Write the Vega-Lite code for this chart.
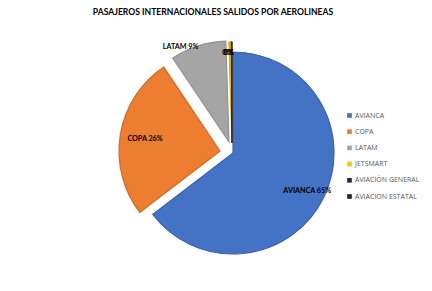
{
  "$schema": "https://vega.github.io/schema/vega-lite/v6.json",
  "autosize": "none",
  "width": 398,
  "height": 266,
  "padding": {"left": 34, "top": 20, "right": 0, "bottom": 5},
  "background": "white",
  "config": {"view": {"stroke": null}, "font": "Lato"},
  "title": {
    "text": "PASAJEROS INTERNACIONALES SALIDOS POR AEROLINEAS",
    "fontSize": 8.6,
    "fontWeight": "bold",
    "color": "#000000",
    "font": "Lato",
    "anchor": "middle",
    "dx": -20,
    "offset": 3,
    "limit": 400
  },
  "data": {
    "values": [
      {"cat": "AVIANCA", "v": 64.6},
      {"cat": "COPA", "v": 26.0},
      {"cat": "LATAM", "v": 8.9},
      {"cat": "JETSMART", "v": 0.4},
      {"cat": "AVIACIÓN GENERAL", "v": 0.06},
      {"cat": "AVIACION ESTATAL", "v": 0.04}
    ]
  },
  "layer": [
    {
      "mark": {
        "type": "arc",
        "outerRadius": 101,
        "strokeWidth": 1.2,
        "xOffset": {"expr": "datum.cat == 'COPA' ? -13 : datum.cat == 'AVIANCA' ? 0 : datum.cat == 'LATAM' ? -4 : -1"},
        "yOffset": {"expr": "datum.cat == 'COPA' ? -2 : datum.cat == 'AVIANCA' ? 0 : datum.cat == 'LATAM' ? -11 : -10"}
      },
      "encoding": {
        "theta": {"field": "v", "type": "quantitative", "stack": true},
        "order": {"field": "v", "type": "quantitative", "sort": "descending"},
        "color": {
          "field": "cat",
          "type": "nominal",
          "scale": {
            "domain": ["AVIANCA", "COPA", "LATAM", "JETSMART", "AVIACIÓN GENERAL", "AVIACION ESTATAL"],
            "range": ["#4472C4", "#ED7D31", "#A5A5A5", "#FFC000", "#1F2B45", "#26262E"]
          },
          "legend": {
            "title": null,
            "orient": "none",
            "legendX": 312,
            "legendY": 92,
            "symbolType": "square",
            "symbolSize": 22,
            "symbolStrokeWidth": 0,
            "labelFontSize": 7,
            "labelColor": "#595959",
            "labelFont": "Open Sans",
            "rowPadding": 8.2,
            "labelOffset": 2,
            "labelLimit": 120
          }
        },
        "stroke": {
          "field": "cat",
          "type": "nominal",
          "scale": {
            "domain": ["AVIANCA", "COPA", "LATAM", "JETSMART", "AVIACIÓN GENERAL", "AVIACION ESTATAL"],
            "range": ["#3A64B0", "#D46A22", "#939393", "#E0A800", "#1F2B45", "#26262E"]
          },
          "legend": null
        }
      }
    },
    {
      "transform": [
        {"calculate": "datum.v >= 1 ? datum.cat + ' ' + format(datum.v / 100, '.0%') : '0%'", "as": "label"}
      ],
      "mark": {
        "type": "text",
        "fontSize": 7.2,
        "fontWeight": "bold",
        "color": "#000000",
        "font": "Lato",
        "radius": {"expr": "datum.cat == 'AVIANCA' ? 85 : datum.cat == 'COPA' ? 76 : datum.cat == 'LATAM' ? 100 : 90"},
        "align": {"expr": "datum.cat == 'LATAM' ? 'right' : 'center'"},
        "baseline": "middle",
        "xOffset": {"expr": "datum.cat == 'COPA' ? -13 : datum.cat == 'AVIANCA' ? -2 : datum.cat == 'LATAM' ? -4 : -4"},
        "yOffset": {"expr": "datum.cat == 'COPA' ? -2 : datum.cat == 'AVIANCA' ? 0 : datum.cat == 'LATAM' ? -11 : -10"}
      },
      "encoding": {
        "theta": {"field": "v", "type": "quantitative", "stack": true},
        "order": {"field": "v", "type": "quantitative", "sort": "descending"},
        "text": {"field": "label", "type": "nominal"}
      }
    }
  ]
}
